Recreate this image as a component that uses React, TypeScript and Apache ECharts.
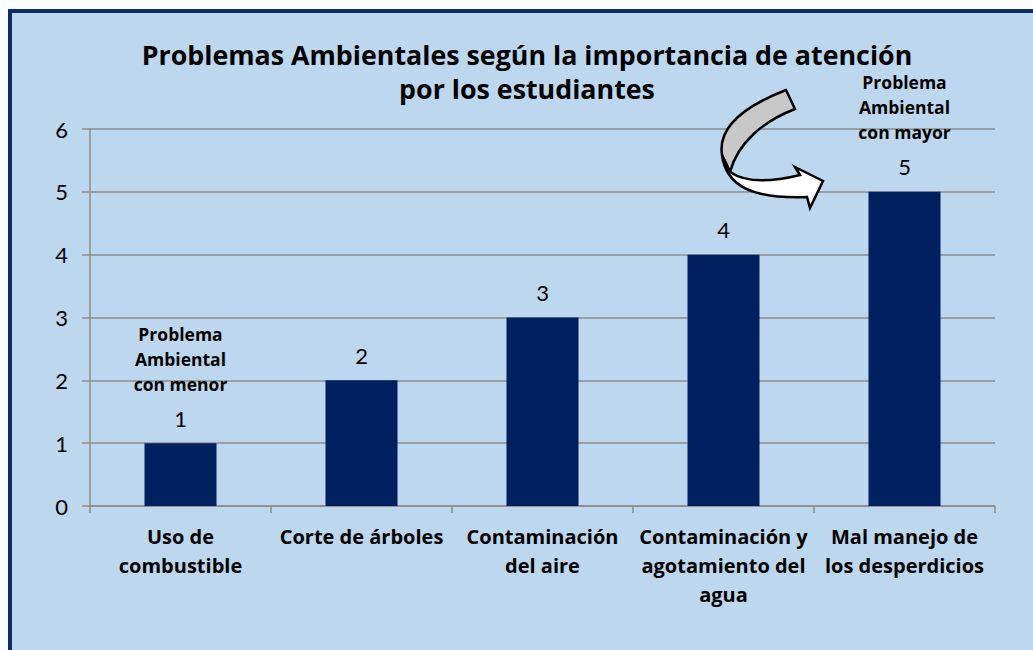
import React, { useEffect, useRef } from "react";
import * as echarts from "echarts";

const categories = [
  "Uso de\ncombustible",
  "Corte de árboles",
  "Contaminación\ndel aire",
  "Contaminación y\nagotamiento del\nagua",
  "Mal manejo de\nlos desperdicios",
];
const values = [1, 2, 3, 4, 5];
const notes = ["Problema\nAmbiental\ncon menor", "", "", "", "Problema\nAmbiental\ncon mayor"];
const yTicks = [0, 1, 2, 3, 4, 5, 6];
const titleText = "Problemas Ambientales según la importancia de atención\npor los estudiantes";

const BOLD_FONT = "'Open Sans', Lato, sans-serif";
const FONT = "Lato, 'Open Sans', sans-serif";

const grayArrow = "M786,90 C750,104 717,124 722,155 L730,172 C738,142 764,121 795,109 Z";
const whiteArrow =
  "M722,155 C726,186 752,199 807,197 L810,208 L823,181 L795,167 L800,175 C772,182 746,183 730,172 Z";

export default function App() {
  const ref = useRef<HTMLDivElement>(null);
  useEffect(() => {
    if (!ref.current) return;
    echarts.graphic.registerShape("arrowGray", echarts.graphic.extendPath(grayArrow, {}));
    echarts.graphic.registerShape("arrowWhite", echarts.graphic.extendPath(whiteArrow, {}));
    const chart = echarts.init(ref.current, null, { renderer: "svg" });
    const data = values.map((v, i) => {
      const note = notes[i];
      return {
        value: v,
        label: {
          formatter: note
            ? note
                .split("\n")
                .map((l) => `{a|${l}}`)
                .join("\n") + `\n{b|${v}}`
            : `{b|${v}}`,
        },
      };
    });
    chart.setOption({
      animation: false,
      backgroundColor: "#ffffff",
      graphic: [
        {
          type: "rect",
          z: -10,
          silent: true,
          shape: { x: 10, y: 11, width: 1100, height: 700 },
          style: { fill: "#BDD7EE", stroke: "#0E2C66", lineWidth: 4 },
        },
        {
          type: "arrowGray",
          z: 10,
          x: 0,
          y: 0,
          style: { fill: "#C8C8C8", stroke: "#000", lineWidth: 2.5 },
        },
        {
          type: "arrowWhite",
          z: 10,
          x: 0,
          y: 0,
          style: { fill: "#ffffff", stroke: "#000", lineWidth: 2.5 },
        },
      ],
      title: {
        text: titleText,
        left: 527,
        top: 37,
        textAlign: "center",
        padding: 0,
        textStyle: {
          fontFamily: BOLD_FONT,
          fontWeight: "bold",
          fontSize: 26.8,
          lineHeight: 34,
          color: "#000",
        },
      },
      grid: { left: 90, right: 38, top: 129, bottom: 144, containLabel: false },
      xAxis: {
        type: "category",
        data: categories,
        axisLine: { lineStyle: { color: "#8C8C8C", width: 1.5 } },
        axisTick: { show: true, length: 7, alignWithLabel: false, lineStyle: { color: "#8C8C8C", width: 1.5 } },
        axisLabel: {
          interval: 0,
          margin: 16,
          fontFamily: BOLD_FONT,
          fontWeight: "bold",
          fontSize: 20,
          lineHeight: 29,
          color: "#000",
        },
      },
      yAxis: {
        type: "value",
        min: yTicks[0],
        max: yTicks[yTicks.length - 1],
        interval: 1,
        axisLine: { show: true, lineStyle: { color: "#8C8C8C", width: 1.5 } },
        axisTick: { show: true, length: 8, lineStyle: { color: "#8C8C8C", width: 1.5 } },
        splitLine: { lineStyle: { color: "#8C8C8C", width: 1.5 } },
        axisLabel: {
          margin: 22,
          fontFamily: FONT,
          fontSize: 22,
          color: "#000",
        },
      },
      series: [
        {
          type: "bar",
          data,
          barWidth: 72,
          itemStyle: { color: "#002060" },
          label: {
            show: true,
            position: "top",
            distance: 3,
            rich: {
              a: { fontFamily: BOLD_FONT, fontWeight: "bold", fontSize: 17.5, lineHeight: 25, color: "#000", align: "center" },
              b: { fontFamily: FONT, fontSize: 22, lineHeight: 44, color: "#000", align: "center" },
            },
          },
        },
      ],
    });
    return () => chart.dispose();
  }, []);
  return (
    <div
      ref={ref}
      style={{ position: "fixed", left: 0, top: 0, width: 1033, height: 650 }}
    />
  );
}
